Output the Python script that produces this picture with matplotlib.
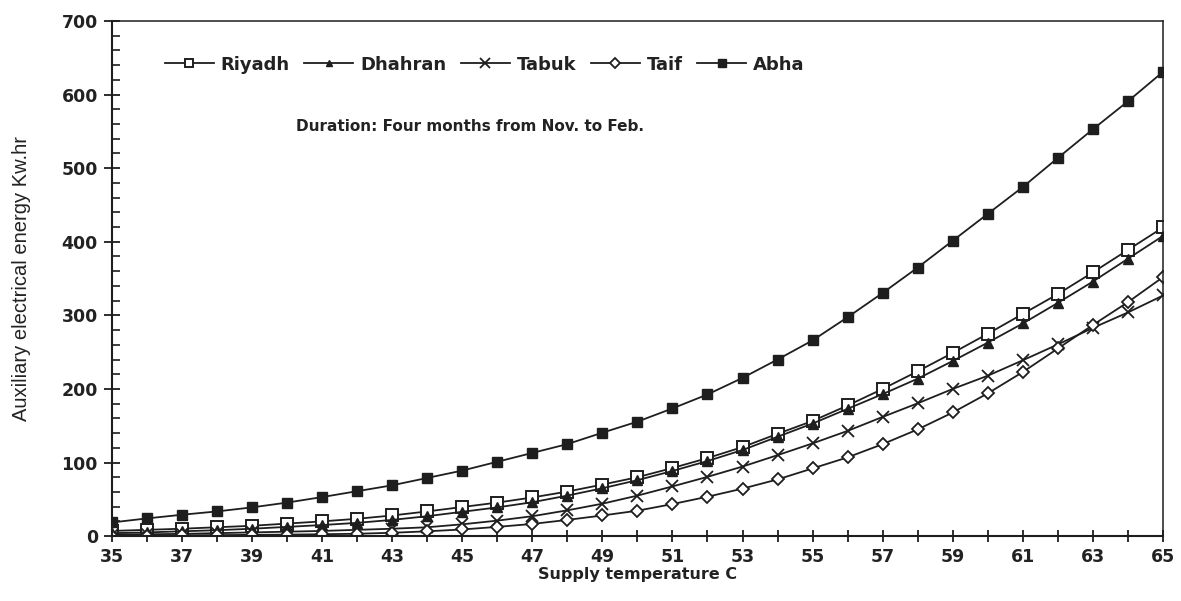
import numpy as np
import matplotlib
matplotlib.use("Agg")
import matplotlib.pyplot as plt
from matplotlib.ticker import MultipleLocator

# Supply temperature (C)
temps = list(range(35, 66))

# Auxiliary electrical energy (Kw.hr)
riyadh = [7, 8.5, 10, 12, 14, 17, 20, 23.5, 28, 33.5, 39.5, 45.5, 52.5, 60.5, 70, 80,
          92.5, 106, 121, 139, 156.5, 177.5, 200, 224, 249, 275, 302, 329, 358.5, 389, 419.5]
dhahran = [4, 5, 6.5, 8, 10, 12.5, 15, 18, 22, 27, 33, 39, 46, 55, 65, 76,
           88.5, 102, 117, 135, 153, 173, 193, 214, 238, 263, 289, 317, 346, 377, 408]
tabuk = [2, 2.5, 3, 4, 5, 6, 7, 8.5, 10, 12, 16, 21, 27, 35, 44, 55,
         67.5, 80.5, 94.5, 110, 126, 143, 162, 180.5, 200, 218, 239, 260.5, 283, 304, 327]
taif = [0.5, 0.8, 1, 1.3, 1.7, 2, 2.5, 3.2, 4.5, 6.5, 9, 12.5, 16.5, 22, 28, 34.5,
        43.5, 53.5, 64.5, 77, 92, 107, 125, 145, 168, 194, 223, 255, 287, 318, 352]
abha = [18.5, 24, 29, 33.5, 39, 45.5, 53, 61, 69, 79, 89, 101, 113, 125, 140.5, 155.5,
        173.5, 192.5, 215, 240, 266, 297.5, 330.5, 365, 401.5, 438, 474.5, 514, 553, 591, 631]

ink = '#1e1e1e'

fig = plt.figure(figsize=(11.81, 6.01), dpi=100)
ax = fig.add_axes([0.0946, 0.108, 0.8902, 0.857])

ax.plot(temps, riyadh, color=ink, lw=1.3, marker='s', ms=8.5, mfc='white', mec=ink, mew=1.4, label='Riyadh')
ax.plot(temps, dhahran, color=ink, lw=1.3, marker='^', ms=6.5, mfc=ink, mec=ink, label='Dhahran')
ax.plot(temps, tabuk, color=ink, lw=1.3, marker='x', ms=9, mec=ink, mew=1.3, label='Tabuk')
ax.plot(temps, taif, color=ink, lw=1.3, marker='D', ms=6.5, mfc='white', mec=ink, mew=1.3, label='Taif')
ax.plot(temps, abha, color=ink, lw=1.3, marker='s', ms=7.5, mfc=ink, mec=ink, label='Abha')

ax.set_xlim(35, 65)
ax.set_ylim(0, 700)

# x ticks at every degree, labels on odd ones only
ax.set_xticks(temps)
ax.set_xticklabels([str(t) if t % 2 == 1 else '' for t in temps])
ax.yaxis.set_major_locator(MultipleLocator(100))
ax.yaxis.set_minor_locator(MultipleLocator(20))

ax.tick_params(axis='x', which='major', direction='inout', length=9, width=1.3, colors=ink,
               labelsize=12.5, pad=4)
ax.tick_params(axis='y', which='major', direction='inout', length=12, width=1.3, colors=ink,
               labelsize=12.5, pad=4)
ax.tick_params(axis='y', which='minor', direction='in', length=6, width=1.2, colors=ink)
for lab in ax.get_xticklabels() + ax.get_yticklabels():
    lab.set_fontweight('bold')
    lab.set_color('#222222')

for side in ['left', 'bottom']:
    ax.spines[side].set_linewidth(1.5)
    ax.spines[side].set_color(ink)
for side in ['top', 'right']:
    ax.spines[side].set_linewidth(1.1)
    ax.spines[side].set_color(ink)

ax.set_xlabel('Supply temperature C', fontsize=11.5, fontweight='bold', color='#222222', labelpad=1)
ax.set_ylabel('Auxiliary electrical energy Kw.hr', fontsize=14.5,
              family=['Liberation Sans', 'DejaVu Sans'], color='#222222', labelpad=22)

leg = ax.legend(loc='center left', bbox_to_anchor=(0.035, 0.915), ncol=5, frameon=False,
                prop={'weight': 'bold', 'size': 13}, handlelength=2.7, handletextpad=0.4,
                columnspacing=0.8, markerscale=0.75)
for t in leg.get_texts():
    t.set_color('#222222')

ax.text(0.175, 0.795, 'Duration: Four months from Nov. to Feb.', transform=ax.transAxes,
        fontsize=11, fontweight='bold', color='#222222', va='center')

fig.savefig('out.png', dpi=100)
